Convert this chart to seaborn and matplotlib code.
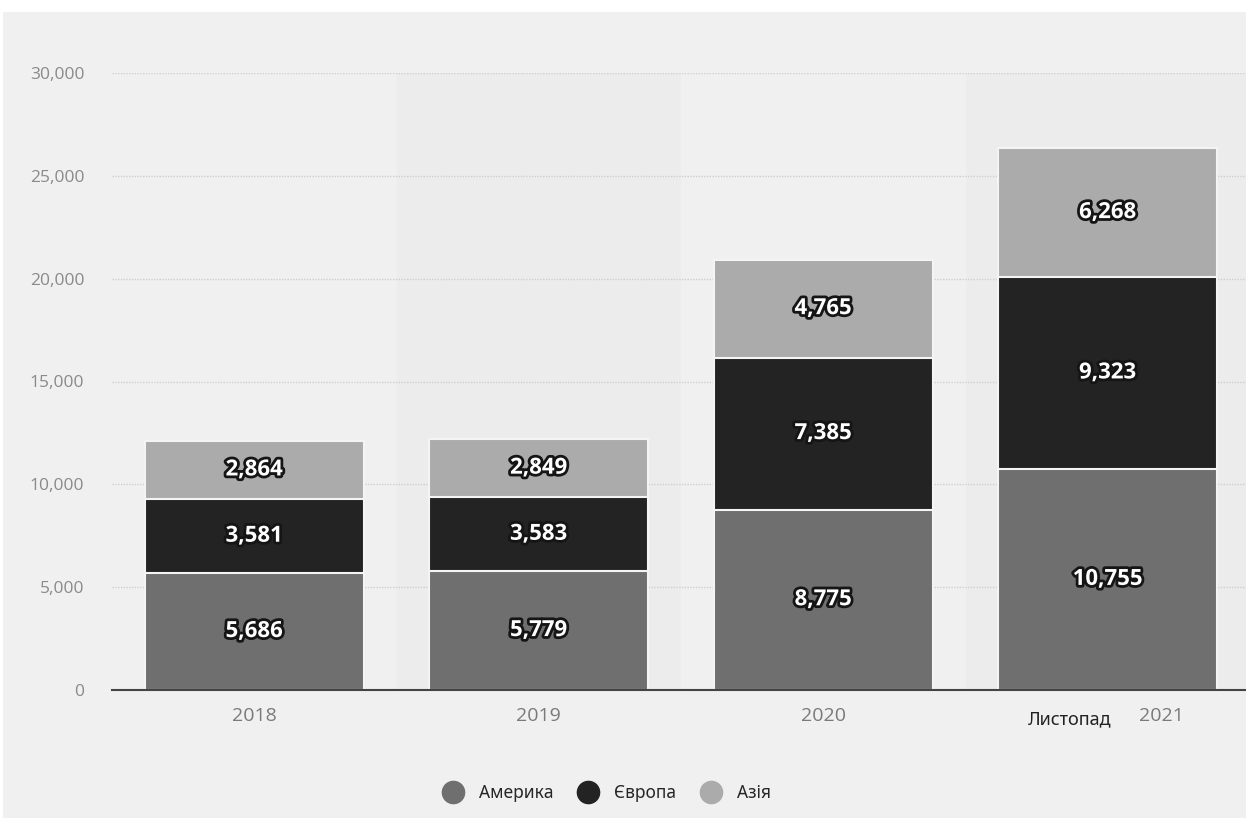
import matplotlib
matplotlib.use("Agg")
import matplotlib.pyplot as plt
import matplotlib.patheffects as pe
import matplotlib.transforms as mtransforms
from matplotlib.lines import Line2D
from matplotlib.patches import Rectangle
import seaborn as sns
import numpy as np

years = ["2018", "2019", "2020", "2021"]
america = [5686, 5779, 8775, 10755]
europe = [3581, 3583, 7385, 9323]
asia = [2864, 2849, 4765, 6268]
series_names = ["Америка", "Європа", "Азія"]
colors = ["#6f6f6f", "#232323", "#ababab"]
month_label = "Листопад"

sns.set_theme(style="white")
plt.rcParams['font.family'] = ['Open Sans', 'DejaVu Sans']

fig = plt.figure(figsize=(12.46, 8.18), dpi=100, facecolor="white")
fig.patches.append(Rectangle((3/1246, 0), 1, 1 - 12/818, transform=fig.transFigure,
                             facecolor="#f0f0f0", edgecolor="none", zorder=-10))
ax = fig.add_axes([112/1246, 1-690/818, (1250-112)/1246, (690-73)/818])
ax.set_facecolor("#f0f0f0")
ax.patch.set_alpha(0)

# subtle column bands
for i in range(len(years)):
    if i % 2 == 1:
        ax.axvspan(i - 0.5, i + 0.5, color="#ececec", zorder=0, lw=0)

a = np.array(america)
e = np.array(europe)
s = np.array(asia)
stack_tops = [a + e + s, a + e, a]
stack_colors = [colors[2], colors[1], colors[0]]
for top, c in zip(stack_tops, stack_colors):
    sns.barplot(x=years, y=top, color=c, width=0.77, edgecolor="#f4f4f4",
                linewidth=1.5, ax=ax, zorder=3, saturation=1)

# value labels
bottoms = [np.zeros(4), a, a + e]
for vals, bot in zip([a, e, s], bottoms):
    for i, (v, b0) in enumerate(zip(vals, bot)):
        ax.text(i, b0 + v / 2, f"{v:,}", ha="center", va="center",
                color="white", fontsize=16, fontweight="bold", zorder=5,
                path_effects=[pe.withStroke(linewidth=4, foreground="#151515")])

ax.set_ylim(0, 30000)
ax.set_xlim(-0.5, 3.5)
ax.set_yticks(np.arange(0, 30001, 5000))
ax.set_yticklabels([f"{int(t):,}" for t in np.arange(0, 30001, 5000)])
ax.yaxis.grid(True, color="#cfcfcf", linestyle=(0, (1, 1)), linewidth=1, zorder=1)
ax.set_axisbelow(True)
ax.set_xlabel("")
ax.set_ylabel("")
for sp in ["top", "right", "left"]:
    ax.spines[sp].set_visible(False)
ax.spines["bottom"].set_color("#444444")
ax.spines["bottom"].set_linewidth(1.5)
ax.spines["bottom"].set_zorder(6)
ax.tick_params(axis="y", length=0, labelsize=12.5, labelcolor="#8a8a8a", pad=20)
ax.tick_params(axis="x", length=0, labelsize=14, labelcolor="#7a7a7a", pad=12)

ax.set_xticks(range(len(years)))
ax.set_xticklabels(years)
last = ax.get_xticklabels()[-1]
last.set_transform(last.get_transform() + mtransforms.ScaledTranslation(0.54, 0, fig.dpi_scale_trans))
trans = mtransforms.blended_transform_factory(ax.transData, ax.transAxes)
ax.text(3 - 0.135, 0.0, month_label,
        transform=trans + mtransforms.ScaledTranslation(0, -0.29, fig.dpi_scale_trans),
        ha="center", va="center", fontsize=13, color="#222222",
        family=["Noto Sans", "DejaVu Sans"])

handles = [Line2D([0], [0], marker="o", linestyle="", markersize=16,
                  markerfacecolor=c, markeredgecolor=c) for c in colors]
fig.legend(handles, series_names, loc="center", bbox_to_anchor=(603/1246, 1-793/818),
           ncol=3, frameon=False, handletextpad=0.5, columnspacing=1.0,
           prop={"family": ["Noto Sans", "DejaVu Sans"], "size": 12.5})

fig.savefig("out.png", dpi=100, facecolor=fig.get_facecolor())
